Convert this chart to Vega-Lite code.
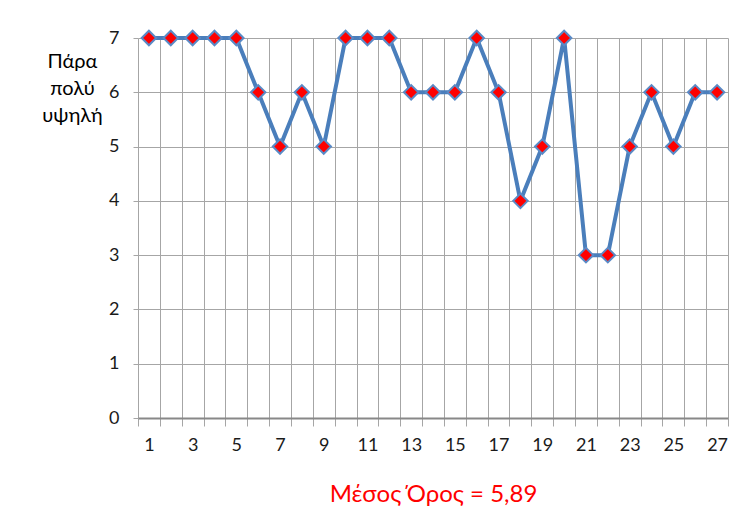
{
  "$schema": "https://vega.github.io/schema/vega-lite/v6.json",
  "width": 590,
  "height": 380,
  "autosize": "none",
  "padding": {"left": 138, "top": 38, "right": 20, "bottom": 113},
  "background": "white",
  "config": {
    "font": "Lato",
    "view": {"stroke": null},
    "axis": {"labelFont": "Lato", "titleFont": "Lato", "labelColor": "#1a1a1a", "gridColor": "#a6a6a6", "gridWidth": 1, "tickColor": "#a6a6a6", "domainColor": "#888"}
  },
  "data": {
    "values": [
      {"n": 1, "v": 7}, {"n": 2, "v": 7}, {"n": 3, "v": 7}, {"n": 4, "v": 7}, {"n": 5, "v": 7},
      {"n": 6, "v": 6}, {"n": 7, "v": 5}, {"n": 8, "v": 6}, {"n": 9, "v": 5}, {"n": 10, "v": 7},
      {"n": 11, "v": 7}, {"n": 12, "v": 7}, {"n": 13, "v": 6}, {"n": 14, "v": 6}, {"n": 15, "v": 6},
      {"n": 16, "v": 7}, {"n": 17, "v": 6}, {"n": 18, "v": 4}, {"n": 19, "v": 5}, {"n": 20, "v": 7},
      {"n": 21, "v": 3}, {"n": 22, "v": 3}, {"n": 23, "v": 5}, {"n": 24, "v": 6}, {"n": 25, "v": 5},
      {"n": 26, "v": 6}, {"n": 27, "v": 6}
    ]
  },
  "encoding": {
    "x": {
      "field": "n",
      "type": "ordinal",
      "scale": {"type": "band", "paddingInner": 0, "paddingOuter": 0},
      "axis": {
        "title": "Μέσος Όρος = 5,89",
        "titleColor": "#ff0000",
        "titleFontSize": 24,
        "titleFontWeight": "normal",
        "titleBaseline": "alphabetic",
        "titleY": 83,
        "labelAngle": 0,
        "labelFontSize": 18,
        "labelPadding": 10,
        "labelExpr": "datum.value % 2 == 1 ? datum.label : ''",
        "tickBand": "extent",
        "tickSize": 8,
        "grid": true,
        "domainWidth": 2
      }
    },
    "y": {
      "field": "v",
      "type": "quantitative",
      "scale": {"domain": [0, 7], "nice": false},
      "axis": {
        "values": [0, 1, 2, 3, 4, 5, 6, 7],
        "title": ["Πάρα", "πολύ", "υψηλή"],
        "titleAngle": 0,
        "titleFontSize": 20,
        "titleFontWeight": "normal",
        "titleLineHeight": 27,
        "titleAlign": "center",
        "titleBaseline": "top",
        "titleX": -66,
        "titleY": 13,
        "titleColor": "#000",
        "labelFontSize": 18,
        "labelPadding": 14,
        "tickSize": 5,
        "domain": false,
        "grid": true
      }
    }
  },
  "layer": [
    {"mark": {"type": "line", "color": "#4a7ebb", "strokeWidth": 4}},
    {"mark": {"type": "point", "shape": "diamond", "filled": true, "fill": "#ff0000", "stroke": "#5a8ac6", "strokeWidth": 2, "size": 210, "opacity": 1}}
  ]
}
